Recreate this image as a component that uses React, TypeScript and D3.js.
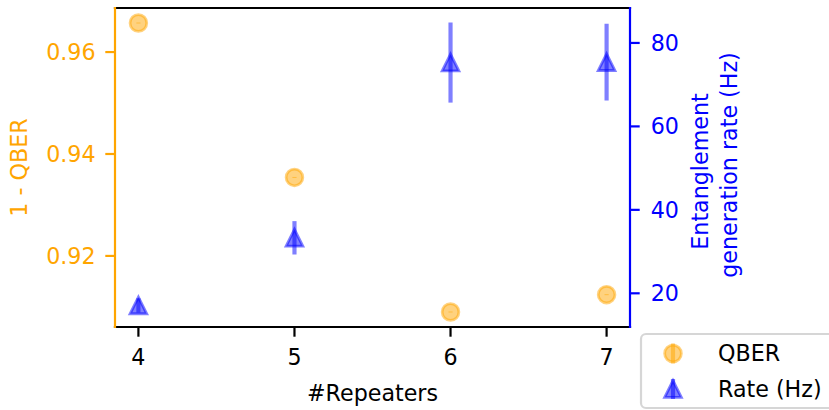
import React from "react";
import * as d3 from "d3";

const repeaters = [4, 5, 6, 7];
const fidelity = [0.9657, 0.9354, 0.909, 0.9124];
const fidelityErr = [0.0001, 0.0001, 0.0001, 0.0001];
const rate = [17.1, 33.3, 75.3, 75.4];
const rateErr = [1.7, 4.0, 9.6, 9.2];
const xTicks = [4, 5, 6, 7];
const leftTicks = [0.92, 0.94, 0.96];
const rightTicks = [20, 40, 60, 80];
const legendLabels = ["QBER", "Rate (Hz)"];

const W = 829;
const H = 410;
const M = { left: 115, right: 630, top: 8, bottom: 327 };
const ORANGE = "#FFA500";
const BLUE = "#0000FF";
const FONT = "DejaVu Sans";
const FS = 22.2;
const LW = 2.2;
const TICK = 9.7;

function padded(lo: number, hi: number) {
  const r = hi - lo;
  return [lo - 0.05 * r, hi + 0.05 * r];
}

export default function App() {
  const x = d3.scaleLinear().domain(padded(4, 7)).range([M.left, M.right]);
  const fLo = d3.min(fidelity.map((v, i) => v - fidelityErr[i]))!;
  const fHi = d3.max(fidelity.map((v, i) => v + fidelityErr[i]))!;
  const yL = d3.scaleLinear().domain(padded(fLo, fHi)).range([M.bottom, M.top]);
  const rLo = d3.min(rate.map((v, i) => v - rateErr[i]))!;
  const rHi = d3.max(rate.map((v, i) => v + rateErr[i]))!;
  const yR = d3.scaleLinear().domain(padded(rLo, rHi)).range([M.bottom, M.top]);

  const ms = 16.7; // marker size px
  const edge = 2.78;
  const tri = d3.symbol().type(d3.symbolTriangle);
  const triPath = (cx: number, cy: number) => {
    const h = ms / 2;
    return `M${cx},${cy - h}L${cx - h},${cy + h}L${cx + h},${cy + h}Z`;
  };
  void tri;

  const cx = M.left + 0; // unused placeholder
  void cx;

  const circleMarker = (px: number, py: number, key: string) => (
    <circle
      key={key}
      cx={px}
      cy={py}
      r={ms / 2}
      fill={ORANGE}
      fillOpacity={0.5}
      stroke={ORANGE}
      strokeOpacity={0.5}
      strokeWidth={edge}
    />
  );
  const triMarker = (px: number, py: number, key: string) => (
    <path
      key={key}
      d={triPath(px, py)}
      fill={BLUE}
      fillOpacity={0.5}
      stroke={BLUE}
      strokeOpacity={0.5}
      strokeWidth={edge}
      strokeLinejoin="miter"
    />
  );

  return (
    <svg
      width={W}
      height={H}
      style={{ position: "absolute", left: 0, top: 0 }}
      fontFamily={FONT}
      fontSize={FS}
    >
      <rect x={0} y={0} width={W} height={H} fill="white" />

      {/* QBER series */}
      {repeaters.map((r, i) => (
        <g key={"q" + i}>
          <line
            x1={x(r)}
            x2={x(r)}
            y1={yL(fidelity[i] - fidelityErr[i])}
            y2={yL(fidelity[i] + fidelityErr[i])}
            stroke={ORANGE}
            strokeOpacity={0.5}
            strokeWidth={4.17}
          />
          {circleMarker(x(r), yL(fidelity[i]), "c" + i)}
        </g>
      ))}

      {/* Rate series */}
      {repeaters.map((r, i) => (
        <g key={"r" + i}>
          <line
            x1={x(r)}
            x2={x(r)}
            y1={yR(rate[i] - rateErr[i])}
            y2={yR(rate[i] + rateErr[i])}
            stroke={BLUE}
            strokeOpacity={0.5}
            strokeWidth={4.17}
          />
          {triMarker(x(r), yR(rate[i]), "t" + i)}
        </g>
      ))}

      {/* spines */}
      <line x1={M.left} x2={M.right} y1={M.top} y2={M.top} stroke="black" strokeWidth={LW} strokeLinecap="square" />
      <line x1={M.left} x2={M.right} y1={M.bottom} y2={M.bottom} stroke="black" strokeWidth={LW} strokeLinecap="square" />
      <line x1={M.left} x2={M.left} y1={M.top} y2={M.bottom} stroke={ORANGE} strokeWidth={LW} strokeLinecap="square" />
      <line x1={M.right} x2={M.right} y1={M.top} y2={M.bottom} stroke={BLUE} strokeWidth={LW} strokeLinecap="square" />

      {/* x ticks */}
      {xTicks.map((t) => (
        <g key={"xt" + t}>
          <line x1={x(t)} x2={x(t)} y1={M.bottom} y2={M.bottom + TICK} stroke="black" strokeWidth={LW} />
          <text x={x(t)} y={364.5} textAnchor="middle" fill="black">
            {t}
          </text>
        </g>
      ))}
      <text x={(M.left + M.right) / 2} y={401} textAnchor="middle" fill="black">
        #Repeaters
      </text>

      {/* left ticks */}
      {leftTicks.map((t) => (
        <g key={"lt" + t}>
          <line x1={M.left - TICK} x2={M.left} y1={yL(t)} y2={yL(t)} stroke={ORANGE} strokeWidth={LW} />
          <text x={M.left - TICK - 9.7} y={yL(t)} dy="0.36em" textAnchor="end" fill={ORANGE}>
            {d3.format(".2f")(t)}
          </text>
        </g>
      ))}
      <text
        transform={`translate(26.5,${(M.top + M.bottom) / 2}) rotate(-90)`}
        textAnchor="middle"
        fill={ORANGE}
      >
        1 - QBER
      </text>

      {/* right ticks */}
      {rightTicks.map((t) => (
        <g key={"rt" + t}>
          <line x1={M.right} x2={M.right + TICK} y1={yR(t)} y2={yR(t)} stroke={BLUE} strokeWidth={LW} />
          <text x={M.right + TICK + 11} y={yR(t)} dy="0.36em" textAnchor="start" fill={BLUE}>
            {t}
          </text>
        </g>
      ))}
      <text transform={`translate(708,171.5) rotate(-90)`} textAnchor="middle" fill={BLUE}>
        Entanglement
      </text>
      <text transform={`translate(736.5,165) rotate(-90)`} textAnchor="middle" fill={BLUE}>
        generation rate (Hz)
      </text>

      {/* legend */}
      <rect
        x={641}
        y={334}
        width={200}
        height={74}
        rx={5}
        fill="white"
        fillOpacity={0.8}
        stroke="#cccccc"
        strokeOpacity={0.8}
        strokeWidth={2.2}
      />
      <line x1={673} x2={673} y1={353.5 - 10} y2={353.5 + 10} stroke={ORANGE} strokeOpacity={0.5} strokeWidth={4.17} />
      {circleMarker(673, 353.5, "lc")}
      <text x={718} y={353.5} dy="0.36em" fill="black">
        {legendLabels[0]}
      </text>
      <line x1={673} x2={673} y1={389 - 10} y2={389 + 10} stroke={BLUE} strokeOpacity={0.5} strokeWidth={4.17} />
      {triMarker(673, 389, "lt")}
      <text x={718} y={389} dy="0.36em" fill="black">
        {legendLabels[1]}
      </text>
    </svg>
  );
}
